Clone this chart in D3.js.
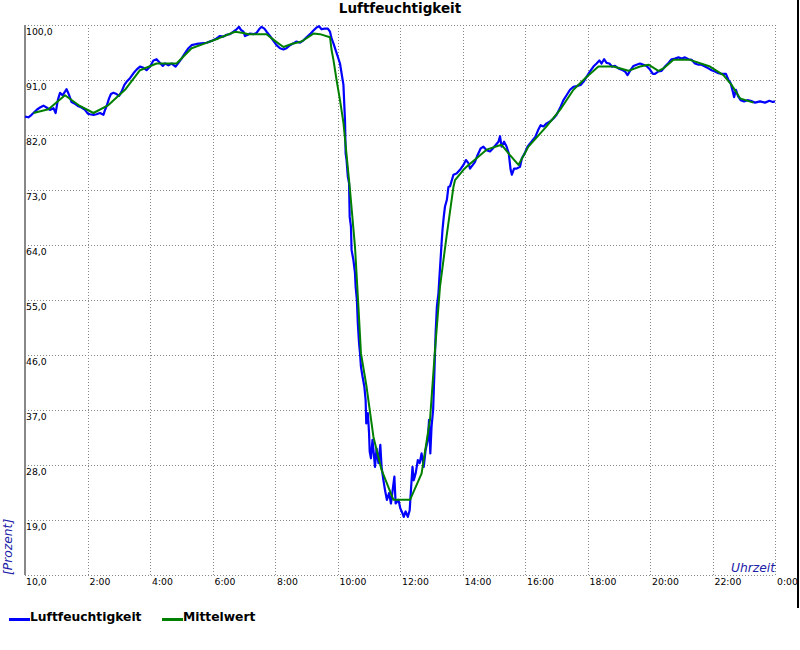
<!DOCTYPE html>
<html>
<head>
<meta charset="utf-8">
<script src="https://cdn.jsdelivr.net/npm/d3@7"></script>
<style>
  body { margin: 0; background: #fff; }
  svg { display: block; font-family: "DejaVu Sans", Verdana, sans-serif; }
</style>
</head>
<body>
<div id="chart"></div>
<script>
// axis ticks
const hourTicks = [2, 4, 6, 8, 10, 12, 14, 16, 18, 20, 22, 24];
const hourLabels = ["2:00", "4:00", "6:00", "8:00", "10:00", "12:00", "14:00", "16:00", "18:00", "20:00", "22:00", "0:00"];
const percentTicks = [10, 19, 28, 37, 46, 55, 64, 73, 82, 91, 100];

// Luftfeuchtigkeit (hour of day, percent)
const humidityHours = [
  0, 0.11, 0.21, 0.37, 0.48, 0.59, 0.69, 0.8, 0.91, 0.98, 1.05, 1.12, 1.2, 1.28, 1.33, 1.39, 1.49, 1.6, 1.71, 1.81,
  1.92, 2.01, 2.08, 2.19, 2.29, 2.4, 2.51, 2.56, 2.61, 2.69, 2.75, 2.83, 2.93, 3.01, 3.09, 3.18, 3.25, 3.36, 3.47, 3.57,
  3.68, 3.79, 3.89, 4.0, 4.11, 4.21, 4.32, 4.41, 4.48, 4.59, 4.69, 4.82, 4.91, 5.01, 5.12, 5.23, 5.33, 5.49, 5.65, 5.81,
  5.97, 6.13, 6.24, 6.35, 6.45, 6.56, 6.67, 6.77, 6.85, 6.91, 6.99, 7.04, 7.13, 7.2, 7.31, 7.41, 7.49, 7.57, 7.66, 7.73,
  7.84, 7.95, 8.05, 8.16, 8.27, 8.37, 8.48, 8.59, 8.69, 8.8, 8.91, 9.01, 9.12, 9.23, 9.33, 9.41, 9.49, 9.58, 9.69, 9.76,
  9.81, 9.87, 9.94, 10.01, 10.08, 10.19, 10.22, 10.24, 10.26, 10.29, 10.33, 10.37, 10.39, 10.43, 10.45, 10.51, 10.56, 10.58, 10.62, 10.65,
  10.69, 10.72, 10.75, 10.8, 10.86, 10.9, 10.92, 10.97, 11.01, 11.03, 11.07, 11.12, 11.16, 11.2, 11.25, 11.31, 11.37, 11.41, 11.47, 11.52,
  11.58, 11.65, 11.71, 11.78, 11.82, 11.86, 11.95, 12.01, 12.08, 12.12, 12.18, 12.25, 12.31, 12.35, 12.4, 12.44, 12.5, 12.57, 12.63, 12.69,
  12.76, 12.82, 12.89, 12.93, 12.97, 13.01, 13.06, 13.1, 13.12, 13.14, 13.18, 13.23, 13.27, 13.31, 13.33, 13.36, 13.4, 13.44, 13.5, 13.55,
  13.6, 13.71, 13.81, 13.92, 14.03, 14.11, 14.19, 14.24, 14.33, 14.4, 14.48, 14.58, 14.67, 14.77, 14.88, 14.97, 15.07, 15.15, 15.2, 15.25,
  15.33, 15.41, 15.48, 15.54, 15.58, 15.65, 15.73, 15.84, 15.9, 15.99, 16.08, 16.16, 16.25, 16.33, 16.42, 16.5, 16.59, 16.69, 16.8, 16.91,
  17.01, 17.12, 17.23, 17.33, 17.44, 17.55, 17.65, 17.78, 17.87, 17.97, 18.08, 18.19, 18.29, 18.38, 18.45, 18.53, 18.61, 18.7, 18.78, 18.88,
  18.99, 19.09, 19.2, 19.28, 19.36, 19.47, 19.57, 19.68, 19.79, 19.89, 20.0, 20.09, 20.16, 20.27, 20.37, 20.48, 20.59, 20.69, 20.8, 20.91,
  21.01, 21.12, 21.23, 21.33, 21.44, 21.55, 21.65, 21.76, 21.87, 21.97, 22.08, 22.19, 22.29, 22.43, 22.51, 22.58, 22.65, 22.69, 22.75, 22.82,
  22.9, 23.01, 23.12, 23.22, 23.36, 23.52, 23.68, 23.82, 23.93, 24.0
];
const humidityValues = [
  85.0, 84.9, 85.3, 86.1, 86.5, 86.8, 86.5, 86.1, 86.4, 85.6, 87.7, 88.9, 88.5, 89.1, 89.5, 88.8, 87.4, 87.1, 86.7, 86.5,
  86.1, 85.5, 85.4, 85.3, 85.4, 85.6, 85.3, 86.1, 86.7, 88.0, 88.7, 88.9, 88.7, 88.4, 89.1, 90.2, 90.7, 91.3, 92.1, 92.7,
  93.2, 93.0, 92.6, 93.2, 94.2, 94.4, 93.8, 93.3, 93.7, 93.4, 93.7, 93.2, 93.8, 94.5, 95.4, 96.2, 96.7, 96.9, 97.0, 97.1,
  97.4, 97.8, 98.2, 98.1, 98.4, 98.5, 98.9, 99.3, 99.7, 99.2, 98.9, 98.2, 98.4, 98.6, 98.5, 98.7, 99.3, 99.7, 99.4, 98.9,
  98.2, 97.4, 96.7, 96.2, 96.0, 96.2, 96.7, 97.0, 97.3, 97.1, 97.5, 98.0, 98.5, 99.1, 99.6, 99.8, 99.3, 99.4, 99.4, 98.9,
  97.8, 97.0, 95.9, 94.8, 93.7, 90.2, 86.6, 84.4, 79.0, 77.9, 75.2, 74.1, 68.6, 67.0, 63.2, 61.5, 59.4, 57.2, 55.0, 51.2,
  47.9, 46.3, 44.1, 42.5, 40.8, 38.6, 34.8, 36.5, 33.2, 30.2, 29.1, 32.1, 29.9, 27.7, 30.7, 28.3, 31.3, 27.7, 25.5, 23.9,
  22.3, 23.4, 21.7, 24.5, 26.1, 21.7, 22.3, 20.9, 20.1, 19.5, 20.4, 19.5, 20.6, 23.9, 27.7, 25.5, 26.6, 28.8, 28.3, 29.9,
  27.7, 30.5, 32.1, 35.4, 29.9, 34.3, 37.0, 43.0, 46.3, 49.6, 53.9, 56.1, 59.4, 62.6, 64.3, 66.5, 68.6, 70.3, 71.4, 73.5,
  73.6, 75.5, 75.7, 76.3, 77.1, 77.9, 77.4, 76.5, 77.1, 77.6, 78.7, 79.8, 80.1, 79.5, 79.3, 79.8, 80.4, 80.9, 81.8, 80.1,
  80.9, 80.1, 79.0, 76.3, 75.5, 76.5, 76.5, 76.8, 78.2, 79.0, 80.1, 80.6, 81.2, 81.7, 82.8, 83.6, 83.4, 83.9, 84.2, 84.7,
  85.3, 86.4, 87.7, 88.5, 89.4, 89.9, 90.0, 90.2, 90.7, 91.5, 92.4, 93.2, 93.7, 94.2, 93.7, 94.4, 93.8, 93.7, 93.2, 93.3,
  92.9, 92.7, 92.4, 91.8, 92.5, 93.3, 93.5, 93.7, 93.5, 93.3, 92.7, 92.0, 92.0, 92.4, 92.5, 93.2, 93.8, 94.4, 94.5, 94.7,
  94.5, 94.7, 94.4, 94.3, 93.7, 93.5, 93.5, 93.2, 92.9, 92.6, 92.4, 92.1, 92.0, 92.0, 91.0, 90.5, 89.1, 88.2, 89.4, 88.3,
  87.7, 87.5, 87.7, 87.6, 87.3, 87.5, 87.3, 87.6, 87.4, 87.5
];

// Mittelwert (hour of day, percent)
const meanHours = [
  0.27, 0.75, 1.28, 1.71, 2.19, 2.67, 3.2, 3.68, 4.21, 4.85, 5.33, 5.76, 6.19, 6.72, 6.99, 7.15, 7.73, 8.0, 8.27, 8.53,
  8.85, 9.23, 9.44, 9.76, 9.81, 9.87, 9.97, 10.08, 10.19, 10.4, 10.56, 10.67, 10.75, 10.93, 11.15, 11.41, 11.79, 12.32, 12.69, 12.96,
  13.12, 13.28, 13.49, 13.71, 13.76, 14.03, 14.13, 14.77, 15.25, 15.52, 15.79, 16.11, 16.69, 17.12, 17.55, 17.97, 18.35, 18.83, 19.31, 19.68,
  19.95, 20.27, 20.43, 20.75, 21.28, 21.92, 22.35, 22.61, 22.88, 23.31
];
const meanValues = [
  85.6, 86.2, 88.5, 86.9, 85.6, 86.9, 89.4, 92.6, 93.7, 93.7, 96.2, 97.0, 97.8, 98.9, 98.7, 98.5, 98.5, 97.4, 96.4, 96.9,
  97.3, 98.6, 98.5, 98.0, 95.9, 94.3, 91.0, 87.7, 84.0, 73.0, 63.7, 53.9, 46.3, 40.8, 32.6, 27.2, 22.3, 22.3, 26.6, 35.4,
  46.8, 57.2, 65.4, 73.5, 74.6, 76.3, 76.8, 79.6, 80.4, 78.7, 77.1, 80.1, 83.4, 86.1, 89.4, 91.5, 93.2, 93.2, 92.5, 93.2,
  93.5, 92.5, 92.9, 94.3, 94.3, 93.2, 91.8, 90.2, 88.0, 87.3
];

const width = 800;
const height = 650;
const margin = { top: 25, right: 25, bottom: 75, left: 25 };
const plotW = width - margin.left - margin.right;
const plotH = height - margin.top - margin.bottom;

const svg = d3.select("#chart").append("svg")
  .attr("width", width)
  .attr("height", height);

const x = d3.scaleLinear().domain([0, 24]).range([margin.left, margin.left + plotW]);
const y = d3.scaleLinear().domain([10, 100]).range([margin.top + plotH, margin.top]);

const deFormat = d3.formatLocale({ decimal: ",", thousands: ".", grouping: [3], currency: ["", " €"] }).format(".1f");

// horizontal grid + y labels
const yAxis = svg.append("g")
  .attr("transform", `translate(${margin.left},0)`)
  .call(d3.axisRight(y).tickValues(percentTicks).tickSize(plotW).tickFormat(deFormat));
yAxis.select(".domain").remove();
yAxis.selectAll(".tick line")
  .attr("stroke", "#888").attr("stroke-dasharray", "1,2").attr("shape-rendering", "crispEdges");
yAxis.selectAll(".tick text")
  .attr("x", 1).attr("dy", 9.5).attr("text-anchor", "start")
  .attr("fill", "#000").style("font-size", "9.3px").style("font-family", "DejaVu Sans, sans-serif");

// vertical grid + x labels
const xAxis = svg.append("g")
  .attr("transform", `translate(0,${margin.top + plotH})`)
  .call(d3.axisBottom(x).tickValues(hourTicks).tickSize(-plotH).tickFormat((d, i) => hourLabels[i]));
xAxis.select(".domain").remove();
xAxis.selectAll(".tick line")
  .attr("stroke", "#888").attr("stroke-dasharray", "1,2").attr("shape-rendering", "crispEdges");
xAxis.selectAll(".tick text")
  .attr("x", 1.5).attr("y", 0).attr("dy", 9.5).attr("text-anchor", "start")
  .attr("fill", "#000").style("font-size", "9.3px").style("font-family", "DejaVu Sans, sans-serif");

// solid y axis line
svg.append("line")
  .attr("x1", margin.left).attr("x2", margin.left)
  .attr("y1", margin.top).attr("y2", margin.top + plotH)
  .attr("stroke", "#888").attr("stroke-width", 2);

const humidity = humidityHours.map((t, i) => ({ t, v: humidityValues[i] }));
const mean = meanHours.map((t, i) => ({ t, v: meanValues[i] }));

const line = d3.line().x(d => x(d.t)).y(d => y(d.v));

svg.append("path").datum(humidity)
  .attr("d", line).attr("fill", "none")
  .attr("stroke", "#0000ff").attr("stroke-width", 2.2).attr("stroke-linejoin", "round");

svg.append("path").datum(mean)
  .attr("d", line).attr("fill", "none")
  .attr("stroke", "#008000").attr("stroke-width", 2).attr("stroke-linejoin", "round");

// title
svg.append("text")
  .attr("x", 400).attr("y", 13)
  .attr("text-anchor", "middle")
  .style("font-weight", "bold").style("font-size", "13.5px")
  .text("Luftfeuchtigkeit");

// axis titles
svg.append("text")
  .attr("transform", `translate(12,${margin.top + plotH}) rotate(-90)`)
  .attr("text-anchor", "start")
  .attr("fill", "#2020a8")
  .style("font-style", "italic").style("font-size", "12.3px")
  .text("[Prozent]");

svg.append("text")
  .attr("x", margin.left + plotW).attr("y", 572)
  .attr("text-anchor", "end")
  .attr("fill", "#2020a8")
  .style("font-style", "italic").style("font-size", "12.3px")
  .text("Uhrzeit");

// right frame bar
svg.append("line")
  .attr("x1", 798).attr("x2", 798).attr("y1", 0).attr("y2", 608)
  .attr("stroke", "#000").attr("stroke-width", 2);

// legend
const legendData = [
  { label: "Luftfeuchtigkeit", color: "#0000ff", x: 9 },
  { label: "Mittelwert", color: "#008000", x: 162 }
];
legendData.forEach(d => {
  const g = svg.append("g").attr("transform", `translate(${d.x},618)`);
  g.append("rect").attr("x", 0).attr("y", 0).attr("width", 21).attr("height", 3).attr("fill", d.color);
  g.append("text").attr("x", 21).attr("y", 3)
    .style("font-weight", "bold").style("font-size", "12.3px")
    .text(d.label);
});
</script>
</body>
</html>
